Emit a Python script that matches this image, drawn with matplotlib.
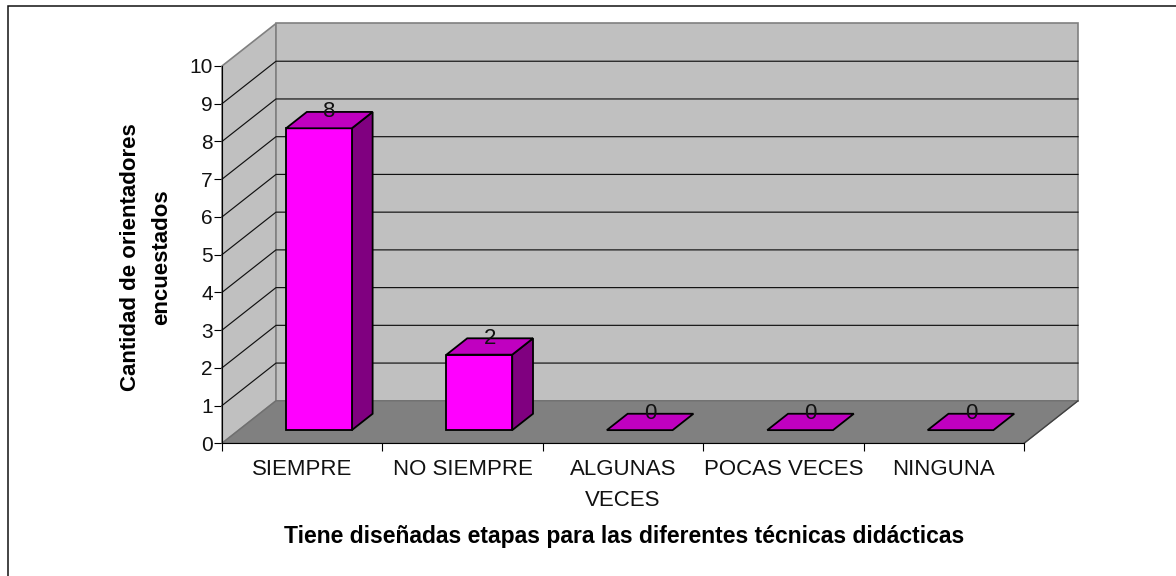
import matplotlib
matplotlib.use('Agg')
import matplotlib.pyplot as plt
from matplotlib.lines import Line2D
from matplotlib.patches import Polygon

plt.rcParams.update({
    'font.family': ['Liberation Sans', 'DejaVu Sans'], 'font.size': 16,
})

categories = ['SIEMPRE', 'NO SIEMPRE', 'ALGUNAS\nVECES', 'POCAS VECES', 'NINGUNA']
values = [8, 2, 0, 0, 0]
y_ticks = list(range(0, 11))
x_title = 'Tiene diseñadas etapas para las diferentes técnicas didácticas'
y_title = 'Cantidad de orientadores\nencuestados'

WIDTH, HEIGHT = 1176, 576
# frente del grafico en pixeles
LEFT, RIGHT, TOP, BOTTOM = 222, 1024, 66, 443.3
unit_x = (RIGHT - LEFT) / len(categories)
unit_y = (BOTTOM - TOP) / 10
DEPTH_X = 54 / unit_x  # profundidad del efecto 3D
DEPTH_Y = 42.5 / unit_y
BAR_START = 0.295
BAR_WIDTH = 0.41
BAR_NEAR = 0.31  # fraccion de la profundidad
BAR_DEPTH = 0.385


def add_poly(ax, points, face, edge='black', lw=1.3, zorder=3):
    ax.add_patch(Polygon(points, closed=True, facecolor=face, edgecolor=edge,
                         linewidth=lw, joinstyle='miter', clip_on=False, zorder=zorder))


def walls(ax):
    n = len(categories)
    dx, dy = DEPTH_X, DEPTH_Y
    add_poly(ax, [(0, 0), (dx, dy), (dx, 10 + dy), (0, 10)], '#c0c0c0', '#808080', 1.2, 1)
    add_poly(ax, [(dx, dy), (n + dx, dy), (n + dx, 10 + dy), (dx, 10 + dy)], '#c0c0c0', '#808080', 1.2, 1)
    add_poly(ax, [(0, 0), (n, 0), (n + dx, dy), (dx, dy)], '#808080', '#707070', 1.0, 1)
    ax.plot([n, n + dx], [0, dy], color='#404040', lw=0.9, clip_on=False, zorder=2)
    for v in y_ticks[1:-1]:
        ax.plot([0, dx, n + dx], [v, v + dy, v + dy], color='#111111', lw=0.85,
                clip_on=False, zorder=2)


def bars(ax):
    for i, v in enumerate(values):
        x0 = i + BAR_START + BAR_NEAR * DEPTH_X
        x1 = x0 + BAR_WIDTH
        y0 = BAR_NEAR * DEPTH_Y
        y1 = y0 + v
        dx = BAR_DEPTH * DEPTH_X
        dy = BAR_DEPTH * DEPTH_Y
        if v > 0:
            add_poly(ax, [(x1, y0), (x1 + dx, y0 + dy), (x1 + dx, y1 + dy), (x1, y1)], '#800080')
            add_poly(ax, [(x0, y0), (x1, y0), (x1, y1), (x0, y1)], '#ff00ff')
        add_poly(ax, [(x0, y1), (x1, y1), (x1 + dx, y1 + dy), (x0 + dx, y1 + dy)], '#c000c0')
        ax.text((x0 + x1 + dx) / 2, y1 + dy, str(v), ha='center', va='center',
                fontsize=16, color='#111111', zorder=5, clip_on=False)


def main():
    fig = plt.figure(figsize=(WIDTH / 100, HEIGHT / 100), dpi=100)
    # marco: solo arriba y a la izquierda
    frame_x = 7.5 / WIDTH
    frame_y = 1 - 5.5 / HEIGHT
    fig.add_artist(Line2D([frame_x, frame_x, 1], [0, frame_y, frame_y], transform=fig.transFigure,
                          color='#111111', linewidth=1.1, solid_joinstyle='miter'))

    ax = fig.add_axes([LEFT / WIDTH, 1 - BOTTOM / HEIGHT,
                       (RIGHT - LEFT) / WIDTH, (BOTTOM - TOP) / HEIGHT])
    ax.patch.set_visible(False)
    ax.set_xlim(0, len(categories))
    ax.set_ylim(0, 10)
    for side in ['top', 'right']:
        ax.spines[side].set_visible(False)
    ax.spines['left'].set_zorder(2)
    ax.set_axisbelow(True)

    walls(ax)
    bars(ax)

    ax.set_yticks(y_ticks)
    ax.tick_params(axis='y', length=5.5, width=0.8, labelsize=15, pad=1, labelcolor='#111111')
    ax.set_xticks(range(len(categories) + 1))
    ax.set_xticklabels([])
    ax.tick_params(axis='x', which='major', length=5.5, width=0.8)
    ax.set_xticks([i + 0.5 for i in range(len(categories))], minor=True)
    ax.set_xticklabels(categories, minor=True, fontsize=16, color='#111111', linespacing=1.58)
    ax.tick_params(axis='x', which='minor', length=0, pad=11.5)
    for lab in ax.get_xticklabels(minor=True):
        lab.set_va('top')

    fig.text(624 / WIDTH, 1 - 536 / HEIGHT, x_title, ha='center', va='center',
             fontsize=16.5, fontweight='bold')
    fig.text(146 / WIDTH, 1 - 257 / HEIGHT, y_title, ha='center', va='center',
             rotation=90, fontsize=16, fontweight='bold', linespacing=1.63)

    fig.savefig('out.png', dpi=100)
    plt.close(fig)


if __name__ == '__main__':
    main()
